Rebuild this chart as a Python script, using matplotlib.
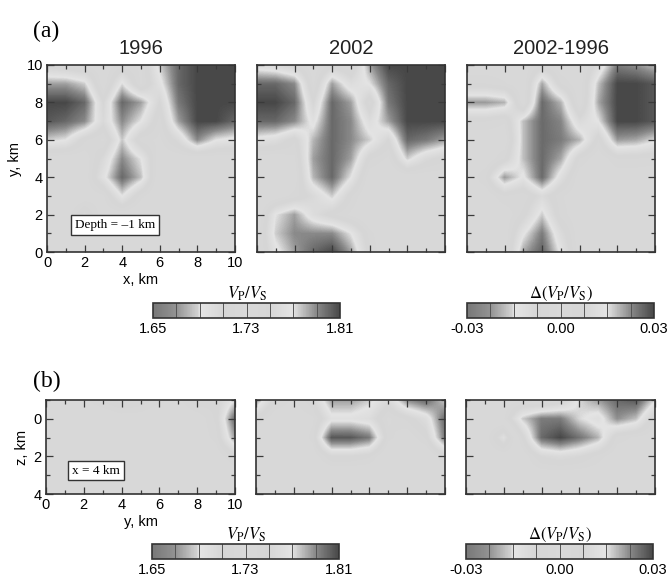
import numpy as np
import matplotlib
matplotlib.use('Agg')
import matplotlib.pyplot as plt
from matplotlib.colors import LinearSegmentedColormap, Normalize
from matplotlib.cm import ScalarMappable
from matplotlib.ticker import MultipleLocator

plt.rcParams['font.family'] = 'Liberation Sans'
plt.rcParams['mathtext.fontset'] = 'stix'

W, H = 670, 578

# node coordinates (km)
x_nodes = np.arange(0, 11)
y_nodes = np.arange(0, 11)
z_nodes = np.arange(-1, 5)

titles = ['1996', '2002', '2002-1996']
vpvs_ticks = [1.65, 1.73, 1.81]
vpvs_ticklabels = ['1.65', '1.73', '1.81']
dvpvs_ticks = [-0.03, 0.00, 0.03]
dvpvs_ticklabels = ['-0.03', '0.00', '0.03']

# map view at depth -1 km, rows from y=10 (top) down to y=0, columns x=0..10
map_1996 = [
    [1.745, 1.740, 1.735, 1.730, 1.740, 1.735, 1.775, 1.800, 1.810, 1.810, 1.810],
    [1.785, 1.785, 1.775, 1.730, 1.772, 1.735, 1.765, 1.800, 1.810, 1.810, 1.810],
    [1.810, 1.810, 1.800, 1.750, 1.800, 1.785, 1.750, 1.795, 1.810, 1.810, 1.810],
    [1.805, 1.800, 1.790, 1.755, 1.790, 1.770, 1.740, 1.785, 1.810, 1.810, 1.800],
    [1.775, 1.770, 1.745, 1.735, 1.776, 1.740, 1.735, 1.755, 1.790, 1.770, 1.765],
    [1.730, 1.730, 1.730, 1.755, 1.790, 1.770, 1.730, 1.730, 1.730, 1.730, 1.730],
    [1.725, 1.725, 1.730, 1.765, 1.800, 1.778, 1.725, 1.725, 1.725, 1.725, 1.725],
    [1.725, 1.725, 1.730, 1.735, 1.770, 1.740, 1.725, 1.725, 1.725, 1.725, 1.725],
    [1.725, 1.730, 1.755, 1.730, 1.730, 1.725, 1.725, 1.725, 1.725, 1.725, 1.725],
    [1.725, 1.725, 1.730, 1.725, 1.725, 1.725, 1.725, 1.725, 1.725, 1.725, 1.725],
    [1.725, 1.725, 1.725, 1.725, 1.725, 1.725, 1.725, 1.725, 1.725, 1.725, 1.725],
]
map_2002 = [
    [1.760, 1.755, 1.745, 1.730, 1.745, 1.735, 1.785, 1.810, 1.810, 1.810, 1.810],
    [1.800, 1.800, 1.790, 1.735, 1.785, 1.760, 1.770, 1.800, 1.810, 1.810, 1.810],
    [1.810, 1.810, 1.800, 1.750, 1.800, 1.785, 1.740, 1.795, 1.810, 1.810, 1.810],
    [1.800, 1.800, 1.790, 1.765, 1.800, 1.790, 1.760, 1.785, 1.810, 1.810, 1.810],
    [1.765, 1.760, 1.745, 1.780, 1.800, 1.790, 1.775, 1.750, 1.800, 1.795, 1.785],
    [1.730, 1.730, 1.735, 1.785, 1.800, 1.785, 1.745, 1.735, 1.775, 1.755, 1.745],
    [1.725, 1.725, 1.730, 1.780, 1.800, 1.770, 1.730, 1.725, 1.730, 1.730, 1.730],
    [1.725, 1.730, 1.740, 1.755, 1.775, 1.745, 1.725, 1.725, 1.725, 1.725, 1.725],
    [1.725, 1.770, 1.785, 1.760, 1.745, 1.735, 1.725, 1.725, 1.725, 1.725, 1.725],
    [1.730, 1.775, 1.790, 1.790, 1.790, 1.770, 1.740, 1.725, 1.725, 1.725, 1.725],
    [1.730, 1.765, 1.785, 1.800, 1.810, 1.785, 1.745, 1.725, 1.725, 1.725, 1.725],
]
map_diff = [
    [0.000, 0.000, 0.000, 0.000, 0.005, 0.000, 0.000, 0.010, 0.024, 0.022, 0.018],
    [0.005, 0.005, 0.003, 0.000, 0.020, 0.005, 0.000, 0.018, 0.030, 0.030, 0.028],
    [0.021, 0.021, 0.019, 0.000, 0.026, 0.019, 0.000, 0.020, 0.030, 0.030, 0.028],
    [0.005, 0.005, 0.003, 0.018, 0.026, 0.023, 0.010, 0.015, 0.030, 0.030, 0.028],
    [0.000, 0.000, 0.000, 0.018, 0.026, 0.024, 0.019, 0.005, 0.021, 0.020, 0.016],
    [0.000, 0.000, 0.005, 0.018, 0.026, 0.020, 0.005, 0.000, 0.005, 0.005, 0.004],
    [0.000, 0.005, 0.021, 0.014, 0.026, 0.012, 0.000, 0.000, 0.000, 0.000, 0.000],
    [0.000, 0.000, 0.005, 0.003, 0.010, 0.003, 0.000, 0.000, 0.000, 0.000, 0.000],
    [0.000, 0.000, 0.000, 0.006, 0.017, 0.004, 0.000, 0.000, 0.000, 0.000, 0.000],
    [0.000, 0.000, 0.000, 0.014, 0.024, 0.010, 0.000, 0.000, 0.000, 0.000, 0.000],
    [0.000, 0.000, 0.000, 0.020, 0.027, 0.014, 0.000, 0.000, 0.000, 0.000, 0.000],
]

# cross section at x = 4 km, rows from z=-1 (top) down to z=4, columns y=0..10
sec_1996 = [
    [1.730, 1.730, 1.735, 1.745, 1.755, 1.750, 1.740, 1.735, 1.750, 1.745, 1.770],
    [1.725, 1.725, 1.725, 1.725, 1.730, 1.730, 1.725, 1.725, 1.730, 1.745, 1.800],
    [1.725, 1.725, 1.725, 1.725, 1.725, 1.725, 1.725, 1.725, 1.730, 1.740, 1.785],
    [1.725, 1.725, 1.725, 1.725, 1.725, 1.725, 1.725, 1.725, 1.725, 1.730, 1.745],
    [1.725, 1.725, 1.725, 1.725, 1.725, 1.725, 1.725, 1.725, 1.725, 1.725, 1.730],
    [1.725, 1.725, 1.725, 1.725, 1.725, 1.725, 1.725, 1.725, 1.725, 1.725, 1.725],
]
sec_2002 = [
    [1.785, 1.745, 1.735, 1.750, 1.785, 1.785, 1.775, 1.755, 1.790, 1.800, 1.775],
    [1.745, 1.730, 1.730, 1.735, 1.765, 1.765, 1.760, 1.735, 1.745, 1.760, 1.800],
    [1.725, 1.725, 1.725, 1.740, 1.805, 1.805, 1.795, 1.740, 1.730, 1.745, 1.795],
    [1.725, 1.725, 1.725, 1.730, 1.750, 1.750, 1.745, 1.725, 1.725, 1.725, 1.745],
    [1.725, 1.725, 1.725, 1.725, 1.725, 1.725, 1.725, 1.725, 1.725, 1.725, 1.730],
    [1.725, 1.725, 1.725, 1.725, 1.725, 1.725, 1.725, 1.725, 1.725, 1.725, 1.725],
]
sec_diff = [
    [0.000, 0.000, 0.000, 0.002, 0.000, 0.004, 0.016, 0.021, 0.026, 0.028, 0.016],
    [0.000, 0.000, 0.002, 0.017, 0.024, 0.024, 0.016, 0.012, 0.022, 0.018, 0.004],
    [0.000, 0.000, -0.012, 0.006, 0.026, 0.030, 0.025, 0.019, 0.004, 0.002, 0.000],
    [0.000, 0.000, 0.000, 0.000, 0.008, 0.010, 0.008, 0.004, 0.000, 0.000, 0.000],
    [0.000, 0.000, 0.000, 0.000, 0.000, 0.000, 0.000, 0.000, 0.000, 0.000, 0.000],
    [0.000, 0.000, 0.000, 0.000, 0.000, 0.000, 0.000, 0.000, 0.000, 0.000, 0.000],
]

# grey scale: dark at both ends, light in the middle
cmap = LinearSegmentedColormap.from_list('vpvs', [
    (0.000, '#787878'), (0.125, '#939393'), (0.240, '#d2d2d2'),
    (0.250, '#e6e6e6'), (0.375, '#d6d6d6'), (0.500, '#d9d9d9'),
    (0.625, '#d6d6d6'), (0.750, '#e4e4e4'), (0.875, '#8a8a8a'),
    (1.000, '#484848')])
norm_abs = Normalize(1.65, 1.81)
norm_diff = Normalize(-0.03, 0.03)


def fr(x0, y0, w, h):
    """pixel box (top-left origin) -> figure fraction rect"""
    return [x0 / W, 1 - (y0 + h) / H, w / W, h / H]


def draw_field(ax, xs, ys, vals, norm):
    dx, dy = xs[1] - xs[0], ys[1] - ys[0]
    ext = (xs[0] - dx / 2, xs[-1] + dx / 2, ys[0] - dy / 2, ys[-1] + dy / 2)
    ax.imshow(np.asarray(vals, float), origin='lower', extent=ext, cmap=cmap, norm=norm,
              aspect='auto', interpolation='bilinear', interpolation_stage='data')


def style_axes(ax, labels):
    ax.xaxis.set_major_locator(MultipleLocator(2))
    ax.xaxis.set_minor_locator(MultipleLocator(1))
    ax.yaxis.set_major_locator(MultipleLocator(2))
    ax.yaxis.set_minor_locator(MultipleLocator(1))
    ax.tick_params(which='both', direction='in', top=True, right=True,
                   color='#3a3a3a', labelsize=10.5, pad=3)
    ax.tick_params(which='major', length=5, width=0.9)
    ax.tick_params(which='minor', length=3, width=0.9)
    if not labels:
        ax.tick_params(labelleft=False, labelbottom=False)
    for s in ax.spines.values():
        s.set_color('#333333')
        s.set_linewidth(1.2)


def add_cbar(fig, rect, norm, ticks, ticklabels, label):
    cax = fig.add_axes(rect)
    cb = fig.colorbar(ScalarMappable(norm=norm, cmap=cmap), cax=cax,
                      orientation='horizontal', ticks=ticks)
    cb.set_ticklabels(ticklabels)
    cb.ax.tick_params(length=0, labelsize=10.5, pad=3)
    cb.outline.set_edgecolor('#333333')
    cb.outline.set_linewidth(1.2)
    for v in np.linspace(norm.vmin, norm.vmax, 9)[1:-1]:
        cax.axvline(v, color='#555555', lw=0.7)
    cax.set_title(label, fontsize=12, pad=2)


fig = plt.figure(figsize=(W / 100, H / 100), dpi=100)

panel_x = [47, 257, 467]
maps = [(map_1996, norm_abs), (map_2002, norm_abs), (map_diff, norm_diff)]
secs = [(sec_1996, norm_abs), (sec_2002, norm_abs), (sec_diff, norm_diff)]

for k, (px, title) in enumerate(zip(panel_x, titles)):
    vals, norm = maps[k]
    ax = fig.add_axes(fr(px, 65, 188, 187))
    draw_field(ax, x_nodes, y_nodes, np.asarray(vals)[::-1], norm)
    ax.set_xlim(0, 10)
    ax.set_ylim(0, 10)
    style_axes(ax, k == 0)
    ax.set_title(title, fontsize=14.5, pad=8, color='#222222')
    if k == 0:
        ax.set_xlabel('x, km', fontsize=10.5, labelpad=2)
        ax.set_ylabel('y, km', fontsize=10.5, labelpad=3)
        ax.text(3.63, 1.42, 'Depth = \u20131 km', family='Liberation Serif', fontsize=9.5,
                ha='center', va='center',
                bbox=dict(boxstyle='square,pad=0.3', fc='white', ec='#333333', lw=1))

    vals, norm = secs[k]
    ax = fig.add_axes(fr(px - 1, 400, 189, 94))
    draw_field(ax, x_nodes, z_nodes, vals, norm)
    ax.set_xlim(0, 10)
    ax.set_ylim(4, -1)
    style_axes(ax, k == 0)
    if k == 0:
        ax.set_xlabel('y, km', fontsize=10.5, labelpad=2)
        ax.set_ylabel('z, km', fontsize=10.5, labelpad=3)
        ax.text(2.65, 2.75, 'x = 4 km', family='Liberation Serif', fontsize=9.5,
                ha='center', va='center',
                bbox=dict(boxstyle='square,pad=0.3', fc='white', ec='#333333', lw=1))

lab_abs = r'$V_\mathrm{P}/V_\mathrm{S}$'
lab_diff = r'$\Delta(V_\mathrm{P}/V_\mathrm{S})$'
add_cbar(fig, fr(153, 303, 187, 15), norm_abs, vpvs_ticks, vpvs_ticklabels, lab_abs)
add_cbar(fig, fr(467, 303, 187, 15), norm_diff, dvpvs_ticks, dvpvs_ticklabels, lab_diff)
add_cbar(fig, fr(152, 544, 187, 15), norm_abs, vpvs_ticks, vpvs_ticklabels, lab_abs)
add_cbar(fig, fr(466, 544, 187, 15), norm_diff, dvpvs_ticks, dvpvs_ticklabels, lab_diff)

fig.text(33 / W, 1 - 31 / H, '(a)', family='Liberation Serif', fontsize=17, va='center')
fig.text(33 / W, 1 - 381 / H, '(b)', family='Liberation Serif', fontsize=17, va='center')

fig.savefig('out.png', dpi=100)
